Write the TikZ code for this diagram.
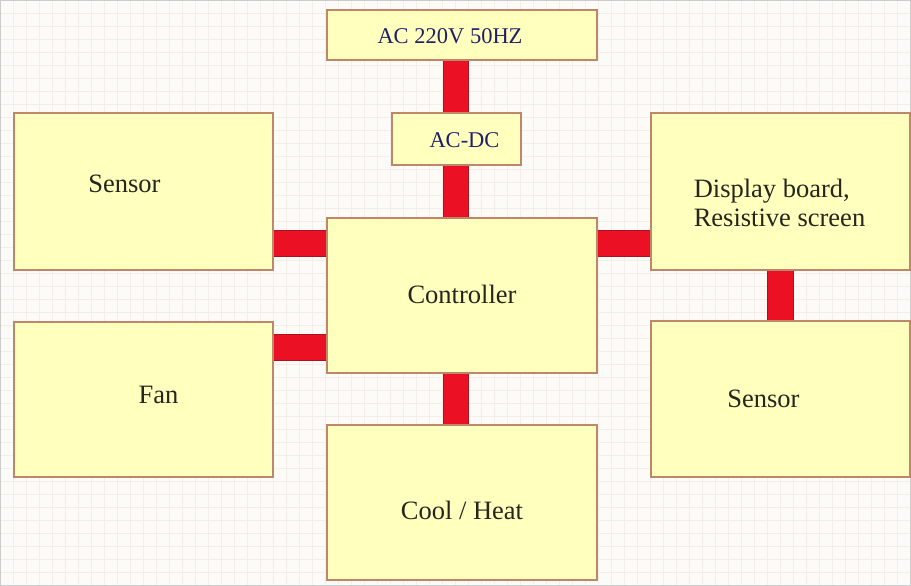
\documentclass[tikz,border=0pt]{standalone}
\usepackage{fontspec}
\setmainfont{Liberation Serif}
\usepackage{tikz}
\usetikzlibrary{positioning,calc}
\usepackage{xcolor}
\definecolor{paper}{RGB}{253,251,247}
\definecolor{gridline}{RGB}{244,238,233}
\definecolor{boxfill}{RGB}{255,255,190}
\definecolor{boxedge}{RGB}{190,135,105}
\definecolor{barred}{RGB}{236,16,36}
\definecolor{baredge}{RGB}{170,20,30}
\definecolor{txtdark}{RGB}{38,38,30}
\definecolor{txtnavy}{RGB}{32,32,105}

\tikzset{
  blockbox/.style={draw=boxedge,fill=boxfill,line width=1.2pt,inner sep=0pt},
  barlink/.style={draw=baredge,line width=0.8pt,double=barred,double distance=24.5pt,line cap=butt},
  lbl/.style={text=txtdark,font=\fontsize{26.5}{29}\selectfont,align=left,inner sep=0pt},
  acl/.style={text=txtnavy,font=\fontsize{22.5}{26}\selectfont,inner sep=0pt}
}

\begin{document}
\begin{tikzpicture}[x=1pt,y=-1pt]
\useasboundingbox (0,0) rectangle (911,586);
\fill[paper] (0,0) rectangle (911,586);
\foreach \gx in {0,13,...,910} \draw[gridline,line width=0.4pt] (\gx,0) -- (\gx,586);
\foreach \gy in {0,13,...,585} \draw[gridline,line width=0.4pt] (0,\gy) -- (911,\gy);
\draw[gray!40,line width=0.6pt] (0.3,0.3) rectangle (910.7,585.7);
% boxes
\node[blockbox,minimum width=270,minimum height=50] (mains) at (462,35) {};
\node[blockbox,minimum width=129,minimum height=52] (acdc) at (456.5,139) {};
\node[blockbox,minimum width=270,minimum height=155] (ctrl) at (462,295.5) {};
\node[blockbox,minimum width=259,minimum height=157] (sensL) at (143.5,191.5) {};
\node[blockbox,minimum width=259,minimum height=155] (fan) at (143.5,399.5) {};
\node[blockbox,minimum width=259,minimum height=157] (disp) at (780.5,191.5) {};
\node[blockbox,minimum width=259,minimum height=156] (sensR) at (780.5,399) {};
\node[blockbox,minimum width=270,minimum height=155] (heat) at (462,502.5) {};
% texts
\node[acl] (mainsTxt) at ([shift={(-12,1)}]mains.center) {AC 220V 50HZ};
\node[acl] (acdcTxt) at ([shift={(8,1)}]acdc.center) {AC-DC};
\node[lbl] (ctrlTxt) at ([shift={(0,-1)}]ctrl.center) {Controller};
\node[lbl] (sensLTxt) at ([shift={(-19,-8)}]sensL.center) {Sensor};
\node[lbl] (fanTxt) at ([shift={(15,-5)}]fan.center) {Fan};
\node[lbl] (dispTxt) at ([shift={(-1,11)}]disp.center) {Display board,\\Resistive screen};
\node[lbl] (sensRTxt) at ([shift={(-17,0)}]sensR.center) {Sensor};
\node[lbl] (heatTxt) at ([shift={(0,8)}]heat.center) {Cool / Heat};
% links
\draw[barlink] ([xshift=-6]mains.south) -- ([xshift=-6]mains.south |- acdc.north);
\draw[barlink] ([xshift=-6]ctrl.north |- acdc.south) -- ([xshift=-6]ctrl.north);
\draw[barlink] ([yshift=-52]sensL.east) -- ([yshift=-52]sensL.east -| ctrl.west);
\draw[barlink] ([yshift=52]fan.east) -- ([yshift=52]fan.east -| ctrl.west);
\draw[barlink] ([yshift=52]ctrl.east) -- ([yshift=52]ctrl.east -| disp.west);
\draw[barlink] (disp.south) -- (sensR.north);
\draw[barlink] ([xshift=-6]ctrl.south) -- ([xshift=-6]heat.north);
\end{tikzpicture}
\end{document}
